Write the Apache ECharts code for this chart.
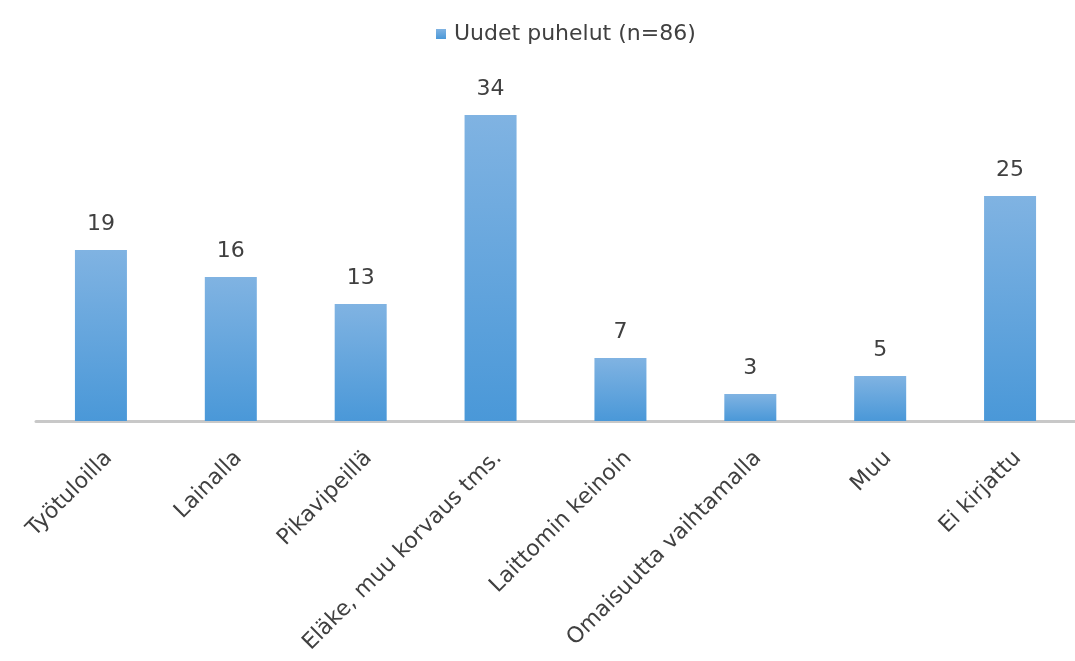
<!DOCTYPE html>
<html>
<head>
<meta charset="utf-8">
<script src="https://cdn.jsdelivr.net/npm/echarts@6/dist/echarts.min.js"></script>
<style>html,body{margin:0;padding:0;background:#fff}#c{width:1075px;height:661px}</style>
</head>
<body>
<div id="c"></div>
<script>
const categories = ["Työtuloilla", "Lainalla", "Pikavipeillä", "Eläke, muu korvaus tms.", "Laittomin keinoin", "Omaisuutta vaihtamalla", "Muu", "Ei kirjattu"];
const seriesName = "Uudet puhelut (n=86)";
const values = [19, 16, 13, 34, 7, 3, 5, 25];

const FONT = 'DejaVu Sans, Liberation Sans, Arial, sans-serif';
const chart = echarts.init(document.getElementById('c'));
chart.setOption({
  animation: false,
  backgroundColor: '#ffffff',
  textStyle: { fontFamily: FONT },
  legend: {
    top: 18,
    left: 431,
    itemWidth: 10,
    itemHeight: 10,
    itemGap: 8,
    icon: 'rect',
    textStyle: { fontSize: 22, color: '#404040', fontFamily: FONT, padding: [0, 0, 0, 3] },
    data: [seriesName]
  },
  grid: { left: 36, top: 115, width: 1048, height: 306, containLabel: false },
  xAxis: {
    type: 'category',
    data: categories,
    axisLine: { lineStyle: { color: '#c8c8c8', width: 3 } },
    axisTick: { show: false },
    axisLabel: {
      rotate: 45,
      interval: 0,
      fontSize: 22,
      color: '#404040',
      margin: 26,
      verticalAlign: 'top',
      fontFamily: FONT
    }
  },
  yAxis: {
    type: 'value',
    min: 0,
    max: 34,
    show: false,
    splitLine: { show: false }
  },
  series: [{
    name: seriesName,
    type: 'bar',
    data: values,
    barWidth: 52,
    itemStyle: {
      color: new echarts.graphic.LinearGradient(0, 0, 0, 1, [
        { offset: 0, color: '#80b3e2' },
        { offset: 1, color: '#4a98d8' }
      ])
    },
    label: {
      show: true,
      position: 'top',
      distance: 15,
      fontSize: 22,
      color: '#404040',
      fontFamily: FONT
    }
  }]
});
</script>
</body>
</html>
